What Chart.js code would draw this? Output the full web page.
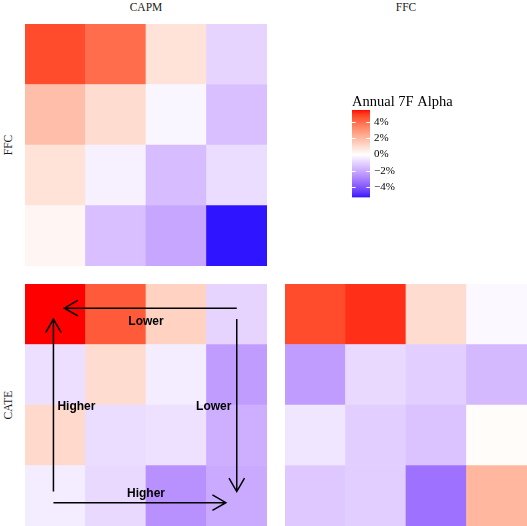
<!DOCTYPE html>
<html>
<head>
<meta charset="utf-8">
<script src="https://cdn.jsdelivr.net/npm/chart.js@4.4.1/dist/chart.umd.min.js"></script>
<style>
  html, body { margin: 0; padding: 0; background: #ffffff; }
  #wrap { position: relative; width: 527px; height: 526px; overflow: hidden; background: #ffffff; }
  #wrap canvas { position: absolute; }
  .strip {
    position: absolute;
    font-family: "Liberation Serif", "Times New Roman", serif;
    font-size: 11.5px;
    line-height: 11.5px;
    color: #1a1a1a;
    white-space: nowrap;
  }
</style>
</head>
<body>
<div id="wrap">
  <canvas id="pFfcCapm" width="242" height="242" style="left:25px;top:24px"></canvas>
  <canvas id="pCateCapm" width="242" height="242" style="left:25px;top:284px"></canvas>
  <canvas id="pCateFfc" width="242" height="242" style="left:285px;top:284px"></canvas>
  <canvas id="legendBar" width="175" height="117" style="left:352px;top:91px"></canvas>
</div>
<script>
// ---- data -------------------------------------------------------------
const quartiles = ['1', '2', '3', '4'];
const colModels = ['CAPM', 'FFC'];
const rowModels = ['FFC', 'CATE'];

// annual 7-factor alpha (%), rows listed top to bottom
const alphaFfcCapm = [
  [4.7, 4.0, 0.8, -1.0],
  [1.85, 1.0, -0.2, -1.5],
  [0.8, -0.35, -1.55, -0.8],
  [0.28, -1.5, -2.1, -5.3]
];
const alphaCateCapm = [
  [5.5, 4.4, 1.3, -1.0],
  [-0.75, 1.0, -0.45, -2.35],
  [1.1, -0.8, -0.7, -1.9],
  [-0.45, -0.9, -2.6, -2.0]
];
const alphaCateFfc = [
  [4.7, 5.15, 1.0, -0.15],
  [-2.35, -0.88, -1.16, -1.66],
  [-0.58, -1.15, -1.4, 0.1],
  [-1.3, -1.15, -3.35, 2.05]
];
const legendTicks = [-4, -2, 0, 2, 4];
const legendTitle = 'Annual 7F Alpha';

// guide arrows on the CATE / CAPM panel (column index, row height units)
const guideArrows = [
  { from: [3, 3.6], to: [0.15, 3.6] },
  { from: [3, 3.42], to: [3, 0.57] },
  { from: [-0.03, 0.57], to: [-0.03, 3.42] },
  { from: [-0.03, 0.385], to: [2.82, 0.385] }
];
const guideLabels = [
  { text: 'Lower', at: [1.5, 3.38] },
  { text: 'Higher', at: [0.35, 1.97] },
  { text: 'Lower', at: [2.62, 1.97] },
  { text: 'Higher', at: [1.5, 0.54] }
];

// ---- diverging colour scale (blue - white - red, Lab interpolation) ---
const allValues = [alphaFfcCapm, alphaCateCapm, alphaCateFfc].flat(2);
const dataMin = Math.min(...allValues);
const dataMax = Math.max(...allValues);
const absMax = Math.max(Math.abs(dataMin), Math.abs(dataMax));

const WX = 0.95047, WY = 1.0, WZ = 1.08883;
function toLin(c) { c /= 255; return c <= 0.04045 ? c / 12.92 : Math.pow((c + 0.055) / 1.055, 2.4); }
function fromLin(c) {
  c = c <= 0.0031308 ? 12.92 * c : 1.055 * Math.pow(c, 1 / 2.4) - 0.055;
  return Math.round(Math.min(1, Math.max(0, c)) * 255);
}
function rgbToLab(rgb) {
  const [r, g, b] = rgb.map(toLin);
  const X = 0.4124564 * r + 0.3575761 * g + 0.1804375 * b;
  const Y = 0.2126729 * r + 0.7151522 * g + 0.0721750 * b;
  const Z = 0.0193339 * r + 0.1191920 * g + 0.9503041 * b;
  const f = t => t > 0.008856 ? Math.cbrt(t) : (7.787 * t + 16 / 116);
  const fx = f(X / WX), fy = f(Y / WY), fz = f(Z / WZ);
  return [116 * fy - 16, 500 * (fx - fy), 200 * (fy - fz)];
}
function labToRgb(lab) {
  const [L, a, b] = lab;
  const fy = (L + 16) / 116, fx = fy + a / 500, fz = fy - b / 200;
  const inv = t => t * t * t > 0.008856 ? t * t * t : (t - 16 / 116) / 7.787;
  const X = WX * inv(fx), Y = WY * inv(fy), Z = WZ * inv(fz);
  const r = 3.2404542 * X - 1.5371385 * Y - 0.4985314 * Z;
  const g = -0.9692660 * X + 1.8760108 * Y + 0.0415560 * Z;
  const bl = 0.0556434 * X - 0.2040259 * Y + 1.0572252 * Z;
  return [fromLin(r), fromLin(g), fromLin(bl)];
}
const labLow = rgbToLab([0, 0, 255]);
const labMid = rgbToLab([255, 255, 255]);
const labHigh = rgbToLab([255, 0, 0]);
function mixLab(a, b, t) { return a.map((v, i) => v + (b[i] - v) * t); }
function alphaColour(v) {
  const p = 0.5 + v / (2 * absMax);
  const lab = p < 0.5 ? mixLab(labLow, labMid, p / 0.5) : mixLab(labMid, labHigh, (p - 0.5) / 0.5);
  const [r, g, b] = labToRgb(lab);
  return `rgb(${r},${g},${b})`;
}
function pctLabel(v) { return (v < 0 ? '\u2212' : '') + Math.abs(v) + '%'; }

// ---- facet strip labels ----------------------------------------------
const wrap = document.getElementById('wrap');
const panelSize = 242;
const colLeft = [25, 285];
const rowTop = [24, 284];
colModels.forEach((name, i) => {
  const d = document.createElement('div');
  d.className = 'strip';
  d.textContent = name;
  d.style.left = (colLeft[i] + panelSize / 2) + 'px';
  d.style.top = '2px';
  d.style.transform = 'translateX(-50%)';
  wrap.appendChild(d);
});
rowModels.forEach((name, i) => {
  const d = document.createElement('div');
  d.className = 'strip';
  d.textContent = name;
  d.style.left = '8.5px';
  d.style.top = (rowTop[i] + panelSize / 2) + 'px';
  d.style.transform = 'translate(-50%, -50%) rotate(-90deg)';
  wrap.appendChild(d);
});

// ---- heat-map panels --------------------------------------------------
const guidePlugin = {
  id: 'guidePath',
  afterDatasetsDraw(chart) {
    const { ctx } = chart;
    const sx = chart.scales.x, sy = chart.scales.y;
    const head = 15.5, ang = Math.PI / 6;
    ctx.save();
    ctx.strokeStyle = '#000000';
    ctx.lineWidth = 1.5;
    ctx.lineCap = 'butt';
    guideArrows.forEach(a => {
      const x0 = sx.getPixelForValue(a.from[0]), y0 = sy.getPixelForValue(a.from[1]);
      const x1 = sx.getPixelForValue(a.to[0]), y1 = sy.getPixelForValue(a.to[1]);
      const th = Math.atan2(y1 - y0, x1 - x0);
      ctx.beginPath();
      ctx.moveTo(x0, y0);
      ctx.lineTo(x1, y1);
      ctx.moveTo(x1 - head * Math.cos(th - ang), y1 - head * Math.sin(th - ang));
      ctx.lineTo(x1, y1);
      ctx.lineTo(x1 - head * Math.cos(th + ang), y1 - head * Math.sin(th + ang));
      ctx.stroke();
    });
    ctx.fillStyle = '#000000';
    ctx.font = 'bold 12px "Liberation Sans", Arial, Helvetica, sans-serif';
    ctx.textAlign = 'center';
    ctx.textBaseline = 'middle';
    guideLabels.forEach(l => {
      ctx.fillText(l.text, sx.getPixelForValue(l.at[0]), sy.getPixelForValue(l.at[1]));
    });
    ctx.restore();
  }
};

function heatPanel(id, matrix, extraPlugins) {
  // one stacked dataset per row; the bottom row is stacked first
  const datasets = matrix.slice().reverse().map((row, k) => ({
    label: 'row ' + (matrix.length - k),
    data: row.map(() => 1),
    alpha: row,
    backgroundColor: row.map(alphaColour),
    borderWidth: 0,
    barPercentage: 1,
    categoryPercentage: 1
  }));
  return new Chart(document.getElementById(id), {
    type: 'bar',
    data: { labels: quartiles, datasets },
    options: {
      responsive: false,
      animation: false,
      devicePixelRatio: 1,
      layout: { padding: 0 },
      plugins: { legend: { display: false }, tooltip: { enabled: false }, title: { display: false } },
      scales: {
        x: { stacked: true, display: false },
        y: { stacked: true, display: false, min: 0, max: quartiles.length }
      }
    },
    plugins: extraPlugins || []
  });
}

heatPanel('pFfcCapm', alphaFfcCapm);
heatPanel('pCateCapm', alphaCateCapm, [guidePlugin]);
heatPanel('pCateFfc', alphaCateFfc);

// ---- colour bar legend ------------------------------------------------
const barTickPlugin = {
  id: 'barTicks',
  afterDatasetsDraw(chart) {
    const { ctx, chartArea } = chart;
    const sy = chart.scales.y;
    const w = chartArea.right - chartArea.left;
    ctx.save();
    ctx.strokeStyle = '#ffffff';
    ctx.lineWidth = 1;
    legendTicks.forEach(v => {
      const y = Math.round(sy.getPixelForValue(v)) + 0.5;
      ctx.beginPath();
      ctx.moveTo(chartArea.left, y);
      ctx.lineTo(chartArea.left + w / 5, y);
      ctx.moveTo(chartArea.right - w / 5, y);
      ctx.lineTo(chartArea.right, y);
      ctx.stroke();
    });
    ctx.restore();
  }
};

new Chart(document.getElementById('legendBar'), {
  type: 'bar',
  data: {
    labels: ['alpha'],
    datasets: [{
      data: [[dataMin, dataMax]],
      backgroundColor(context) {
        const { chart } = context;
        const area = chart.chartArea;
        if (!area) return 'rgba(0,0,0,0)';
        const g = chart.ctx.createLinearGradient(0, area.bottom, 0, area.top);
        const n = 60;
        for (let i = 0; i <= n; i++) {
          g.addColorStop(i / n, alphaColour(dataMin + (dataMax - dataMin) * i / n));
        }
        return g;
      },
      borderWidth: 0,
      barPercentage: 1,
      categoryPercentage: 1
    }]
  },
  options: {
    responsive: false,
    animation: false,
    devicePixelRatio: 1,
    layout: { padding: 0, autoPadding: false },
    plugins: {
      legend: { display: false },
      tooltip: { enabled: false },
      title: {
        display: true,
        text: legendTitle,
        align: 'start',
        color: '#000000',
        font: { family: '"Liberation Serif", "Times New Roman", serif', size: 14.5, weight: 'normal', lineHeight: 1 },
        padding: { top: 3.5, bottom: 1 }
      }
    },
    scales: {
      x: { display: false },
      y: {
        position: 'right',
        min: dataMin,
        max: dataMax,
        grid: { display: false, drawTicks: false },
        border: { display: false },
        afterBuildTicks(scale) { scale.ticks = legendTicks.map(v => ({ value: v })); },
        afterFit(scale) { scale.width = 157; },
        ticks: {
          color: '#000000',
          padding: 4,
          font: { family: '"Liberation Serif", "Times New Roman", serif', size: 11 },
          callback: v => pctLabel(v)
        }
      }
    }
  },
  plugins: [barTickPlugin]
});
</script>
</body>
</html>
